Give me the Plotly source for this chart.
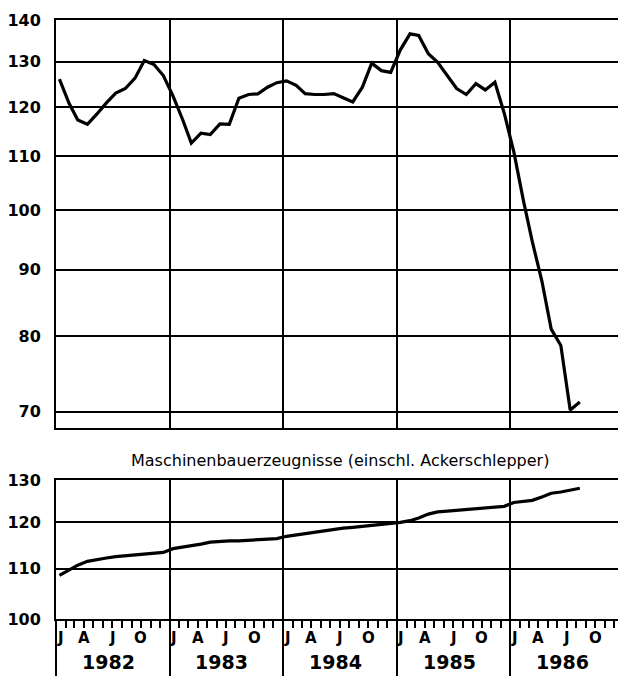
import math
import plotly.graph_objects as go

# ---------------- data ----------------
start_year = 1982
n_months = 56
dates = [f"{start_year + i // 12}-{i % 12 + 1:02d}-12" for i in range(n_months)]

upper_values = [
    126.1, 120.8, 117.3, 116.4, 118.5, 120.9, 123.0, 124.0, 126.3, 130.3, 129.4, 126.9,
    122.4, 117.4, 112.6, 114.6, 114.3, 116.5, 116.4, 121.9, 122.7, 122.85, 124.3, 125.3,
    125.7, 124.7, 122.9, 122.7, 122.7, 122.9, 122.0, 121.1, 124.3, 129.7, 128.0, 127.6,
    132.8, 136.6, 136.2, 131.9, 129.9, 126.8, 124.0, 122.7, 125.1, 123.7, 125.4, 118.7,
    110.8, 101.6, 94.6, 88.2, 81.0, 78.7, 70.2, 71.2,
]

lower_values = [
    108.6, 109.7, 110.7, 111.5, 111.9, 112.2, 112.5, 112.7, 112.9, 113.1, 113.3, 113.4,
    114.2, 114.5, 114.8, 115.2, 115.6, 115.8, 115.9, 115.9, 116.0, 116.1, 116.2, 116.4,
    116.9, 117.2, 117.5, 117.9, 118.2, 118.4, 118.7, 118.9, 119.1, 119.3, 119.5, 119.7,
    120.0, 120.4, 121.0, 121.9, 122.4, 122.6, 122.8, 122.9, 123.1, 123.3, 123.5, 123.7,
    124.6, 124.8, 125.1, 125.9, 126.8, 127.1, 127.5, 128.0,
]

upper_ticks = [70, 80, 90, 100, 110, 120, 130, 140]
lower_ticks = [100, 110, 120, 130]
years = [1982, 1983, 1984, 1985, 1986]
month_labels = ["J", "A", "J", "O"]
month_label_months = [1, 4, 7, 10]
lower_title = "Maschinenbauerzeugnisse (einschl. Ackerschlepper)"

# ---------------- figure ----------------
FONT = "DejaVu Sans"

fig = go.Figure()
fig.add_trace(go.Scatter(x=dates, y=upper_values, xaxis="x", yaxis="y", mode="lines",
                         line=dict(color="black", width=3.2), showlegend=False))
fig.add_trace(go.Scatter(x=dates, y=lower_values, xaxis="x2", yaxis="y2", mode="lines",
                         line=dict(color="black", width=3.2), showlegend=False))

xrange = [f"{years[0]}-01-01", f"{years[-1] + 1}-01-01"]
tickfont = dict(family=FONT, size=16, color="black", weight="bold")

common_x = dict(type="date", range=xrange, showgrid=True, gridcolor="black", gridwidth=2,
                dtick="M12", tick0=f"{years[0]}-01-01", showline=True, linecolor="black",
                linewidth=2, mirror=True, showticklabels=False, zeroline=False,
                automargin=False)

fig.update_layout(
    width=618, height=668,
    margin=dict(l=48, r=2, t=12, b=57, autoexpand=False),
    paper_bgcolor="white", plot_bgcolor="white",
    showlegend=False,
    xaxis=dict(domain=[0, 1], anchor="y", ticks="", **common_x),
    yaxis=dict(domain=[0.3189, 1.0], anchor="x", type="log",
               range=[math.log10(68), math.log10(140)],
               tickvals=upper_ticks, ticktext=[str(v) for v in upper_ticks],
               showgrid=True, gridcolor="black", gridwidth=2,
               showline=True, linecolor="black", linewidth=2, mirror=True,
               ticks="", ticklabelstandoff=10, tickfont=tickfont, zeroline=False,
               automargin=False),
    xaxis2=dict(domain=[0, 1], anchor="y2", ticks="outside", ticklen=57, tickwidth=2,
                tickcolor="black",
                minor=dict(ticks="outside", ticklen=7, tickwidth=2, tickcolor="black",
                           dtick="M1", showgrid=False),
                **common_x),
    yaxis2=dict(domain=[0, 0.2320], anchor="x2", type="log",
                range=[2, math.log10(130)],
                tickvals=lower_ticks, ticktext=[str(v) for v in lower_ticks],
                showgrid=True, gridcolor="black", gridwidth=2,
                showline=True, linecolor="black", linewidth=2, mirror=True,
                ticks="", ticklabelstandoff=10, tickfont=tickfont, zeroline=False,
                automargin=False),
)

annotations = []
annotations.append(dict(text=lower_title, xref="paper", yref="paper", x=0.5, y=0.2638,
                        xanchor="center", yanchor="middle", showarrow=False,
                        font=dict(family=FONT, size=16, color="black")))
for y in years:
    for lab, m in zip(month_labels, month_label_months):
        annotations.append(dict(text=lab, xref="x2", yref="paper",
                                x=f"{y}-{m:02d}-01", y=-0.0317,
                                xanchor="center", yanchor="middle", showarrow=False,
                                xshift=4 if m == 1 else 0,
                                font=dict(family=FONT, size=15, color="black", weight="bold")))
    annotations.append(dict(text=str(y), xref="x2", yref="paper",
                            x=f"{y}-07-01", y=-0.0718,
                            xanchor="center", yanchor="middle", showarrow=False, xshift=-4,
                            font=dict(family=FONT, size=19, color="black", weight="bold")))
fig.update_layout(annotations=annotations)

fig.write_html("out.html")
